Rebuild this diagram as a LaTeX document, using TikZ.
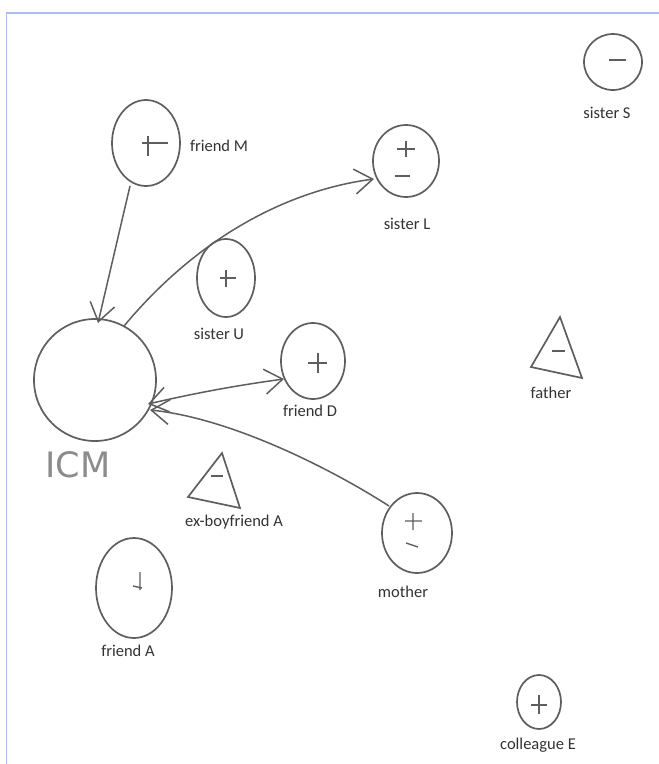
\documentclass[tikz,border=0pt]{standalone}
\usepackage{fontspec}
\setmainfont{Carlito}
\newfontfamily\handfont{DejaVu Sans}
\usetikzlibrary{arrows.meta}
\definecolor{pen}{HTML}{5E5E5E}
\definecolor{frameblue}{HTML}{A9C0EC}
\tikzset{
  circ/.style={draw=pen, line width=1.7pt},
  sign/.style={draw=pen, line width=1.4pt},
  lbl/.style={font=\fontsize{16.5}{18}\selectfont, text=black!80, inner sep=0pt},
  link/.style={draw=pen, line width=1.5pt},
  barb/.style={-{Straight Barb[length=18pt,width=25pt,line width=1.5pt]}},
  barbboth/.style={{Straight Barb[length=18pt,width=25pt,line width=1.5pt]}-{Straight Barb[length=18pt,width=25pt,line width=1.5pt]}}
}
\begin{document}
\begin{tikzpicture}[x=1pt,y=-1pt]
\useasboundingbox (0,0) rectangle (659,764);
\fill[white] (0,0) rectangle (659,764);
% frame
\draw[frameblue, line width=1.5pt] (6.5,764) -- (6.5,13) -- (659,13);

% ICM
\draw[circ] (95,380) circle [radius=61];
\node[font=\handfont\fontsize{35}{37}\selectfont, text=black!45, inner sep=0pt] (icmlbl) at (78,465) {ICM};

% friend M
\draw[circ] (146,143) ellipse [x radius=34, y radius=43];
\draw[sign] (142,143) -- (168,143) (148,136) -- (148,156);
\node[lbl] (fM) at (219,146) {friend M};

% sister U
\draw[circ] (226,278) ellipse [x radius=29, y radius=39];
\draw[sign] (220,278) -- (236,278) (226,270) -- (226,287);
\node[lbl] (sU) at (219,334) {sister U};

% sister L
\draw[circ] (406,161) ellipse [x radius=33, y radius=36];
\draw[sign] (397,149) -- (415,149) (406,141) -- (406,157) (395,176) -- (410,176);
\node[lbl] (sL) at (407,224) {sister L};

% sister S
\draw[circ] (613,62) ellipse [x radius=29, y radius=28];
\draw[sign] (609,60) -- (626,60);
\node[lbl] (sS) at (607,113) {sister S};

% friend D
\draw[circ] (313,361) ellipse [x radius=32, y radius=38];
\draw[sign] (308,363) -- (327,363) (318,353) -- (318,373);
\node[lbl] (fD) at (310,411) {friend D};

% father
\draw[circ] (560,317) -- (531,367) -- (582,378) -- cycle;
\draw[sign] (552,351) -- (565,351);
\node[lbl] (fa) at (551,393) {father};

% ex-boyfriend A
\draw[circ] (222,453) -- (188,497) -- (240,508) -- cycle;
\draw[sign] (211,476) -- (223,476);
\node[lbl] (exA) at (234,522) {ex-boyfriend A};

% mother
\draw[circ] (417,533) ellipse [x radius=35, y radius=40];
\draw[sign] (405,521) -- (422,521) (413,513) -- (413,530) (406,543) -- (418,547);
\node[lbl] (mo) at (403,592) {mother};

% friend A
\draw[circ] (134,588) ellipse [x radius=38, y radius=50];
\draw[sign] (140,572) -- (140,590) (133,586) -- (142,588);
\node[lbl] (fA) at (128,651) {friend A};

% colleague E
\draw[circ] (539,702) ellipse [x radius=22, y radius=27];
\draw[sign] (531,705) -- (547,705) (539,695) -- (539,714);
\node[lbl] (cE) at (538,745) {colleague E};

% connectors
\coordinate (mBot) at (130,186);
\coordinate (icmTop) at (98,323);
\coordinate (icmTR) at (124,326);
\coordinate (lLeft) at (374,179);
\coordinate (icmR) at (148,404);
\coordinate (dLeft) at (284,379);
\coordinate (icmR2) at (150,410);
\coordinate (moTL) at (389,506);

\draw[link, barb] (mBot) -- (icmTop);
\draw[link, barb] (icmTR) .. controls (200,235) and (290,190) .. (lLeft);
\draw[link, barbboth] (icmR) .. controls (200,392) and (240,385) .. (dLeft);
\draw[link, barb] (moTL) .. controls (330,468) and (230,418) .. (icmR2);
\end{tikzpicture}
\end{document}
